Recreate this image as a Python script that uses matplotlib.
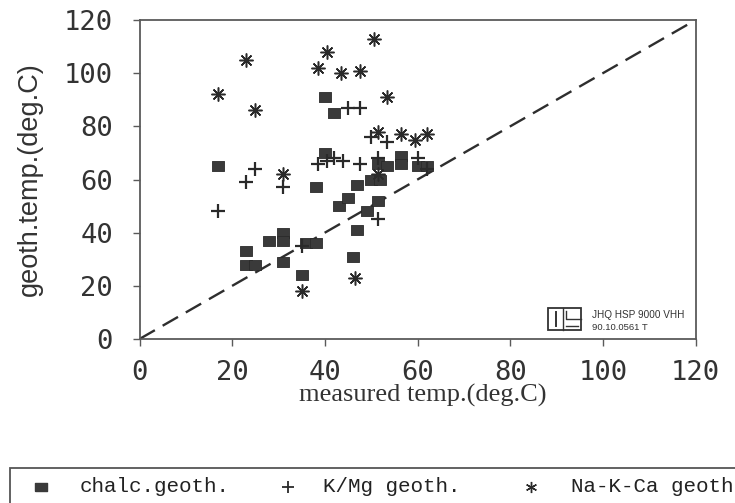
import matplotlib
matplotlib.use("Agg")
import matplotlib.pyplot as plt
from matplotlib.lines import Line2D
from matplotlib.patches import Rectangle

# ---- data ----
chalc_x = [17, 23, 23, 25, 28, 31, 31, 31, 35, 36, 38, 38, 40, 42, 40, 43, 45, 47,
           49, 47, 46, 50, 52, 51.5, 51.5, 53.5, 56.5, 56.5, 60, 62]
chalc_y = [65, 33, 28, 28, 37, 40, 37, 29, 24, 36, 36, 57, 91, 85, 70, 50, 53, 58,
           48, 41, 31, 60, 60, 52, 66, 65, 69, 66, 65, 65]

kmg_x = [17, 23, 25, 31, 35, 38.5, 40.5, 42, 44, 47.5, 45, 47.5, 50, 53.5, 51.5, 60, 62, 51.5]
kmg_y = [48, 59, 64, 57, 35, 66, 67, 68, 67, 66, 87, 87, 76, 74, 68, 68, 64, 45]

nakca_x = [17, 23, 25, 31, 35, 38.5, 40.5, 43.5, 47.5, 50.5, 53.5, 51.5, 56.5, 59.5,
           62, 51.5, 46.5]
nakca_y = [92, 105, 86, 62, 18, 102, 108, 100, 101, 113, 91, 78, 77, 75, 77, 62, 23]

ticks = [0, 20, 40, 60, 80, 100, 120]
legend_labels = ["chalc.geoth.", "K/Mg geoth.", "Na-K-Ca geoth"]

W, H = 735, 503
def fx(px):
    return px / W
def fy(py):
    return 1 - py / H

dark = "#3a3a3a"
sq_verts = [(-1.25, -1), (1.25, -1), (1.25, 1), (-1.25, 1), (-1.25, -1)]

fig = plt.figure(figsize=(7.35, 5.03), dpi=100)
ax = fig.add_axes([fx(139.5), fy(339), (695.6 - 139.5) / W, (339 - 20) / H])

ax.plot([0, 120], [0, 120], color="#2e2e2e", lw=1.7, ls=(0, (7.5, 3.8)), zorder=1)
ax.plot(chalc_x, chalc_y, ls="none", marker=sq_verts, ms=8.4, color=dark,
        mec="#2a2a2a", mew=0.6, zorder=3)
ax.plot(kmg_x, kmg_y, ls="none", marker="+", ms=10, mew=1.6, color="#2a2a2a", zorder=4)
ax.plot(nakca_x, nakca_y, ls="none", marker=(8, 2, 0), ms=10, mew=1.1, color="#2a2a2a", zorder=4)

ax.set_xlim(0, 120)
ax.set_ylim(0, 120)
ax.set_xticks(ticks)
ax.set_yticks(ticks)
ax.set_xticklabels([str(t) for t in ticks])
ax.set_yticklabels([str(t) for t in ticks])
for s in ax.spines.values():
    s.set_color("#5a5a5a")
    s.set_linewidth(1.3)
ax.tick_params(direction="out", length=5, width=1, color="#5a5a5a",
               labelsize=19.5, labelcolor="#333333")
ax.tick_params(axis="x", pad=10)
ax.tick_params(axis="y", pad=14)
for lab in ax.get_xticklabels() + ax.get_yticklabels():
    lab.set_family("DejaVu Sans Mono")

ax.set_xlabel("measured temp.(deg.C)", family="Liberation Serif", size=19, color="#333333")
ax.xaxis.set_label_coords((423 - 139.5) / 556, (339 - 384) / 319)
ax.set_ylabel("geoth.temp.(deg.C)", family="Liberation Sans", size=19.5, color="#333333")
ax.yaxis.set_label_coords((43 - 139.5) / 556, (339 - 179) / 319)

# logo / stamp inside the plot
def px_rect(x0, y0, x1, y1, **kw):
    r = Rectangle((fx(x0), fy(y1)), fx(x1) - fx(x0), fy(y0) - fy(y1),
                  transform=fig.transFigure, fill=False, **kw)
    fig.add_artist(r)
def px_line(xs, ys, **kw):
    fig.add_artist(Line2D([fx(v) for v in xs], [fy(v) for v in ys],
                          transform=fig.transFigure, **kw))
px_rect(548, 308, 581, 330, lw=1.3, ec="#333333")
px_line([556, 556], [312, 326], lw=1.4, color="#333333")
px_line([563, 563], [308, 330], lw=1.0, color="#333333")
px_line([566, 566, 581], [311, 319, 319], lw=1.0, color="#333333")
px_line([566, 578], [326, 326], lw=1.0, color="#333333")
fig.text(fx(592), fy(315), "JHQ HSP 9000 VHH", family="Liberation Sans", size=7.2,
         color="#333333", va="center", ha="left")
fig.text(fx(592), fy(327), "90.10.0561 T", family="Liberation Sans", size=6.8,
         color="#333333", va="center", ha="left")

# legend box at the bottom (extends past the right edge as in the reference)
leg_rect = Rectangle((fx(10), fy(520)), fx(760) - fx(10), fy(468) - fy(520),
                     transform=fig.transFigure, fill=False, ec="#555555", lw=1.3)
fig.add_artist(leg_rect)
ly = 487
fig.add_artist(Line2D([fx(41)], [fy(ly)], transform=fig.transFigure, ls="none",
                      marker=sq_verts, ms=8, color=dark))
fig.add_artist(Line2D([fx(288)], [fy(ly)], transform=fig.transFigure, ls="none",
                      marker="+", ms=8, mew=1.3, color="#2a2a2a"))
fig.add_artist(Line2D([fx(531)], [fy(ly)], transform=fig.transFigure, ls="none",
                      marker=(6, 2, 0), ms=8, mew=1.0, color="#2a2a2a"))
for xpos, lab in zip([80, 323, 571], legend_labels):
    fig.text(fx(xpos), fy(ly), lab, family="Liberation Mono", size=15,
             color="#222222", va="center", ha="left")

fig.savefig("out.png", dpi=100)
